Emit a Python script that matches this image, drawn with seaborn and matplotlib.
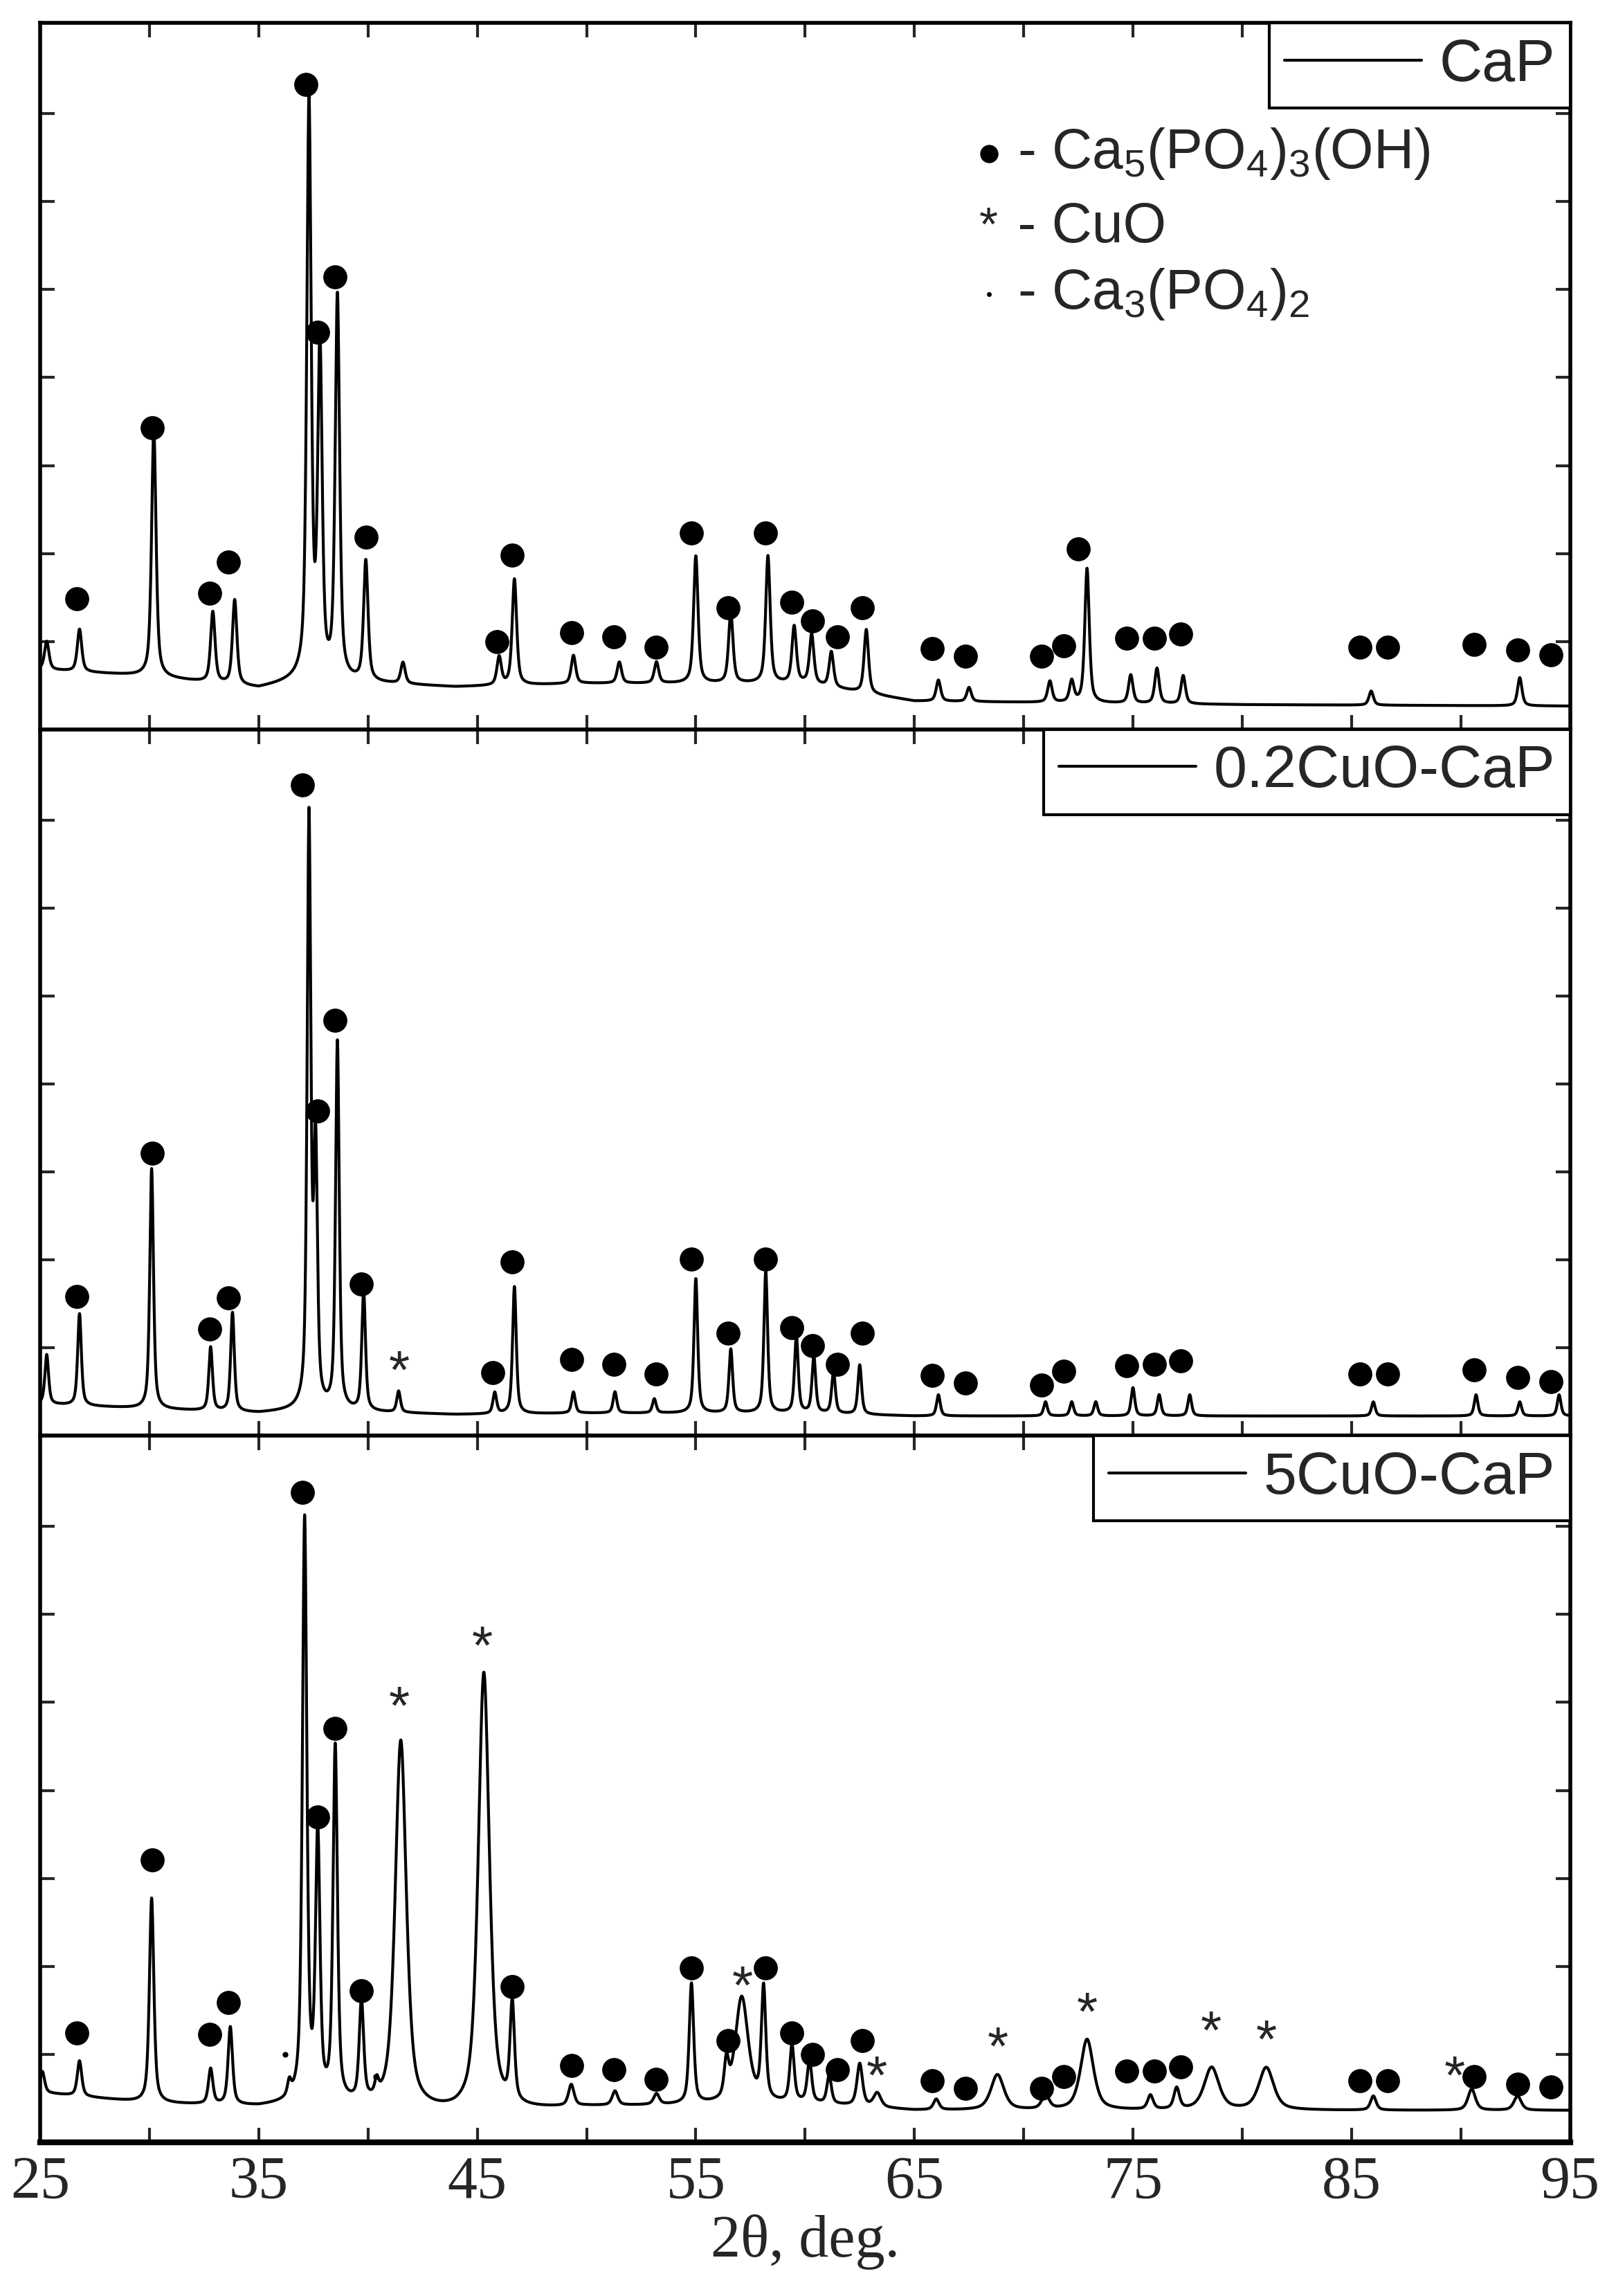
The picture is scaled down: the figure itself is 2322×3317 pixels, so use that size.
import numpy as np
import matplotlib
matplotlib.use("Agg")
import matplotlib.pyplot as plt
from matplotlib.lines import Line2D
import seaborn as sns

# ---- data (y in % of each panel height) ----
two_theta = np.linspace(25, 95, 7001)

names = ["CaP", "0.2CuO-CaP", "5CuO-CaP"]

# background knots (2theta, level)
bg_x = [25, 30, 35, 37, 44, 50, 60, 65, 80, 95]
bg_cap = [8.5, 7.5, 5.8, 7.0, 6.0, 6.5, 6.5, 4.0, 3.5, 3.3]
bg_02 = [4.5, 3.8, 3.2, 3.6, 3.0, 3.2, 3.2, 2.8, 2.8, 2.8]
bg_5 = [7.0, 5.5, 5.0, 5.5, 4.0, 5.0, 5.5, 4.5, 4.5, 4.5]

# peaks: position, height above background, half width
pk_cap_pos = [25.3, 26.8, 30.2, 32.9, 33.9, 37.3, 37.8, 38.6, 39.9, 41.6, 46.0, 46.7, 49.4, 51.5, 53.2, 55.0,
              56.6, 58.3, 59.5, 60.3, 61.2, 62.8, 66.1, 67.5, 71.2, 72.2, 72.9, 74.9, 76.1, 77.3, 85.9, 92.7]
pk_cap_h = [4, 6, 35, 10, 12, 81, 46, 54, 17, 3, 4, 15, 4, 3, 3, 18,
            10, 18, 8, 7, 5, 9, 3, 2, 3, 3, 19, 4, 5, 4, 2, 4]
pk_cap_w = [0.12] * len(pk_cap_pos)

pk_02_pos = [25.3, 26.8, 30.1, 32.8, 33.8, 37.3, 37.6, 38.6, 39.8, 41.4, 45.8, 46.7, 49.4, 51.3, 53.1, 55.0,
             56.6, 58.2, 59.6, 60.4, 61.3, 62.5, 66.1, 71.0, 72.2, 73.3, 75.0, 76.2, 77.6, 86.0, 90.7, 92.7, 94.5]
pk_02_h = [7, 13, 34, 9, 14, 83, 36, 52, 17, 3, 3, 18, 3, 3, 2, 19,
           9, 20, 11, 8, 6, 7, 3, 2, 2, 2, 4, 3, 3, 2, 3, 2, 3]
pk_02_w = [0.1] * len(pk_02_pos)

pk_5_pos = [25.1, 26.8, 30.1, 32.8, 33.7, 36.4, 37.1, 37.7, 38.5, 39.7, 40.4, 41.5, 45.3, 46.6, 49.3, 51.3,
            53.2, 54.8, 56.4, 57.1, 58.1, 59.4, 60.2, 61.1, 62.5, 63.3, 66.0, 68.8, 71.0, 72.9, 75.8, 77.0,
            78.6, 81.1, 86.0, 90.5, 92.6]
pk_5_h = [3, 5, 29, 5, 11, 2, 82, 37, 50, 14, 2, 52, 62, 14, 3, 2,
          1.5, 17, 5, 15, 16, 8, 6, 4, 6, 2, 1.5, 5, 2, 10, 2, 3,
          6, 6, 2, 3, 2]
pk_5_w = [0.12, 0.12, 0.12, 0.12, 0.12, 0.1, 0.12, 0.12, 0.12, 0.12, 0.1, 0.3, 0.3, 0.12, 0.15, 0.15,
          0.15, 0.12, 0.12, 0.35, 0.12, 0.12, 0.12, 0.12, 0.15, 0.2, 0.15, 0.35, 0.2, 0.35, 0.15, 0.15,
          0.4, 0.4, 0.15, 0.2, 0.2]

# phase markers: position, height, kind (o = Ca5(PO4)3(OH), * = CuO, . = Ca3(PO4)2)
mk_cap_x = [26.67, 30.14, 32.75, 33.62, 37.16, 37.69, 38.49, 39.9, 45.9, 46.58, 49.32, 51.25, 53.19, 54.79,
            56.46, 58.2, 59.4, 60.34, 61.47, 62.61, 65.82, 67.35, 70.83, 71.83, 72.5, 74.7, 75.97, 77.17,
            85.39, 86.66, 90.6, 92.6, 94.14]
mk_cap_y = [18.5, 42.7, 19.3, 23.7, 91.3, 56.2, 64.1, 27.2, 12.4, 24.7, 13.7, 13.1, 11.6, 27.8,
            17.2, 27.8, 18.0, 15.4, 13.1, 17.2, 11.4, 10.4, 10.4, 11.8, 25.5, 12.9, 12.9, 13.5,
            11.6, 11.6, 12.0, 11.2, 10.6]
mk_cap_k = ["o"] * len(mk_cap_x)

mk_02_x = [26.67, 30.14, 32.75, 33.62, 37.0, 37.69, 38.49, 39.7, 41.43, 45.7, 46.58, 49.32, 51.25, 53.19,
           54.79, 56.46, 58.2, 59.4, 60.34, 61.47, 62.61, 65.82, 67.35, 70.83, 71.83, 74.7, 75.97, 77.17,
           85.39, 86.66, 90.6, 92.6, 94.14]
mk_02_y = [19.7, 40, 15.1, 19.5, 92.1, 46, 58.8, 21.5, 8.7, 8.9, 24.6, 10.8, 10.1, 8.7,
           25, 14.5, 25, 15.3, 12.8, 10.1, 14.5, 8.5, 7.5, 7.2, 9.1, 9.9, 10.1, 10.6,
           8.7, 8.7, 9.3, 8.3, 7.7]
mk_02_k = ["o"] * 8 + ["*"] + ["o"] * 24

mk_5_x = [26.67, 30.14, 32.75, 33.62, 36.2, 37.0, 37.69, 38.49, 39.7, 40.36, 41.43, 45.24, 46.58, 49.32,
          51.25, 53.19, 54.79, 56.46, 57.13, 58.2, 59.4, 60.34, 61.47, 62.61, 63.28, 65.82, 67.35, 68.82,
          70.83, 71.83, 72.9, 74.7, 75.97, 77.17, 78.57, 81.11, 85.39, 86.66, 89.73, 90.6, 92.6, 94.14]
mk_5_y = [15.5, 40, 15.3, 19.8, 12.4, 92, 46, 58.6, 21.4, 9.3, 61.2, 69.7, 22, 10.9,
          10.3, 8.9, 24.7, 14.4, 21.6, 24.7, 15.5, 12.4, 10.3, 14.4, 8.9, 8.7, 7.6, 13,
          7.6, 9.3, 17.9, 10.1, 10.1, 10.7, 15.3, 14, 8.7, 8.7, 8.9, 9.3, 8.2, 7.8]
mk_5_k = ["o", "o", "o", "o", ".", "o", "o", "o", "o", ".", "*", "*", "o", "o",
          "o", "o", "o", "o", "*", "o", "o", "o", "o", "o", "*", "o", "o", "*",
          "o", "o", "*", "o", "o", "o", "*", "*", "o", "o", "*", "o", "o", "o"]

phase_labels = [r"Ca$_5$(PO$_4$)$_3$(OH)", "CuO", r"Ca$_3$(PO$_4$)$_2$"]


def pattern(bg, pos, h, w):
    y = np.interp(two_theta, bg_x, bg)
    for p, a, g in zip(pos, h, w):
        y = y + a * (0.6 / (1 + ((two_theta - p) / g) ** 2) + 0.4 * np.exp(-np.log(2) * ((two_theta - p) / g) ** 2))
    return y


panels = [
    (bg_cap, pk_cap_pos, pk_cap_h, pk_cap_w, mk_cap_x, mk_cap_y, mk_cap_k),
    (bg_02, pk_02_pos, pk_02_h, pk_02_w, mk_02_x, mk_02_y, mk_02_k),
    (bg_5, pk_5_pos, pk_5_h, pk_5_w, mk_5_x, mk_5_y, mk_5_k),
]

sns.set_style("ticks")
plt.rcParams["font.family"] = ["Liberation Sans", "DejaVu Sans"]
plt.rcParams["mathtext.default"] = "regular"

fig, axes = plt.subplots(3, 1, figsize=(23.22, 33.17), dpi=100, sharex=True)
fig.subplots_adjust(left=0.025, right=0.977, top=0.99, bottom=0.067, hspace=0)

for ax, name, (bg, pos, h, w, mx, my, mk) in zip(axes, names, panels):
    y = pattern(bg, pos, h, w)
    sns.lineplot(x=two_theta, y=y, color="black", linewidth=3, ax=ax, label=name)
    mx = np.array(mx)
    my = np.array(my)
    kinds = np.array(mk)
    ax.plot(mx[kinds == "o"], my[kinds == "o"], "o", color="black", markersize=24, linestyle="none")
    for xx, yy in zip(mx[kinds == "*"], my[kinds == "*"]):
        ax.text(xx, yy, "*", ha="center", va="center", fontsize=56, family="Liberation Sans")
    ax.plot(mx[kinds == "."], my[kinds == "."], "o", color="black", markersize=5, linestyle="none")

    ax.set_xlim(25, 95)
    ax.set_ylim(0, 100)
    ax.set_yticks(np.arange(12.45, 99, 12.45))
    ax.set_yticklabels([])
    ax.set_xticks(np.arange(25, 96, 10))
    ax.set_xticks(np.arange(30, 95, 10), minor=True)
    ax.tick_params(which="both", direction="in", length=15, width=3, top=True, right=True,
                   labelsize=62)
    for s in ax.spines.values():
        s.set_linewidth(4)
        s.set_color("black")
    leg = ax.legend(loc="upper right", fontsize=62, frameon=True, fancybox=False, borderaxespad=0,
                    handlelength=2.3, handletextpad=0.3, borderpad=0.25)
    leg.get_frame().set_edgecolor("black")
    leg.get_frame().set_linewidth(3)
    leg.get_frame().set_alpha(1)
    for line in leg.get_lines():
        line.set_linewidth(3)

# phase key in the top panel
ax0 = axes[0]
key_y = [81.5, 71, 61.6]
ax0.plot([68.4], [key_y[0]], "o", color="black", markersize=18)
ax0.text(68.4, key_y[1], "*", ha="center", va="center", fontsize=50)
ax0.plot([68.4], [key_y[2]], "o", color="black", markersize=4)
for yy, lab in zip(key_y, phase_labels):
    ax0.text(69.0, yy, " - " + lab, ha="left", va="center", fontsize=58)

axes[2].spines["bottom"].set_linewidth(6)
for lab in axes[2].get_xticklabels():
    lab.set_family("Liberation Serif")
axes[2].set_xlabel("2θ, deg.", fontsize=62, family="Liberation Serif", labelpad=4)
axes[2].tick_params(axis="x", pad=14)

fig.savefig("out.png", dpi=100)
